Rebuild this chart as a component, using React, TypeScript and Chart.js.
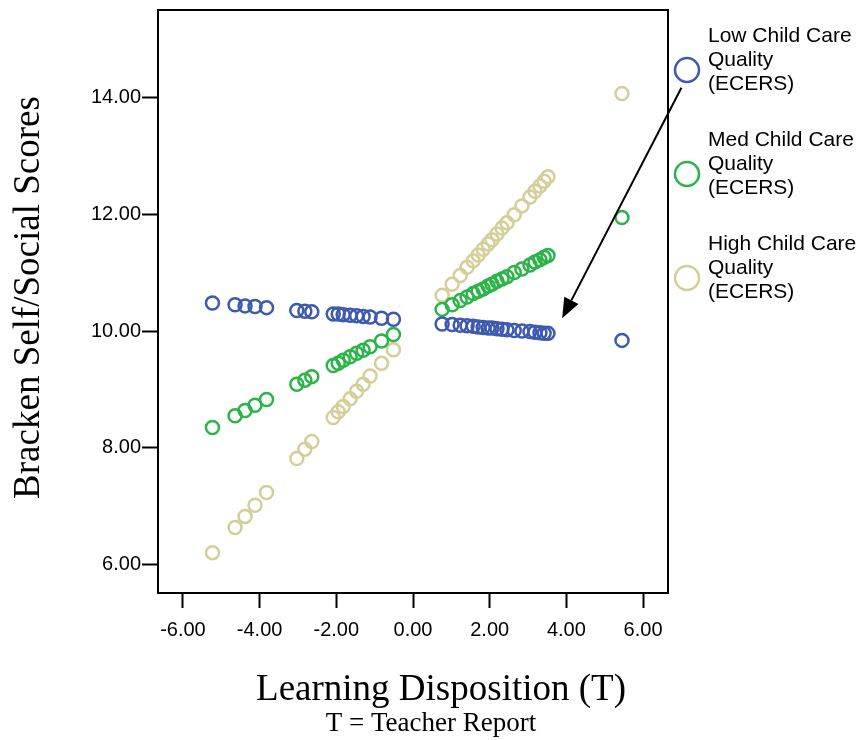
import React, { useEffect, useRef } from "react";
import { Chart, registerables } from "chart.js";

Chart.register(...registerables);

// Learning Disposition (T) values shared by all three groups
const xValues = [
  -5.23, -4.64, -4.38, -4.12, -3.82, -3.03, -2.82, -2.64, -2.08, -1.95, -1.82, -1.64,
  -1.47, -1.3, -1.12, -0.82, -0.51, 0.76, 1.02, 1.23, 1.41, 1.57, 1.7, 1.83, 1.96,
  2.06, 2.19, 2.32, 2.45, 2.64, 2.84, 3.05, 3.18, 3.31, 3.42, 3.52, 5.45,
];

// Bracken Self/Social Scores per group
const lowQuality = [
  10.48, 10.45, 10.43, 10.42, 10.4, 10.35, 10.34, 10.33, 10.29, 10.29, 10.28, 10.27,
  10.26, 10.25, 10.24, 10.22, 10.2, 10.12, 10.11, 10.1, 10.09, 10.08, 10.07, 10.06,
  10.05, 10.05, 10.04, 10.03, 10.02, 10.01, 10.0, 9.99, 9.98, 9.97, 9.96, 9.96, 9.84,
];
const medQuality = [
  8.35, 8.55, 8.64, 8.73, 8.83, 9.09, 9.16, 9.22, 9.41, 9.45, 9.5, 9.56, 9.62, 9.67,
  9.73, 9.83, 9.94, 10.37, 10.45, 10.52, 10.58, 10.64, 10.68, 10.72, 10.77, 10.8,
  10.85, 10.89, 10.93, 11.0, 11.06, 11.13, 11.18, 11.22, 11.26, 11.29, 11.94,
];
const highQuality = [
  6.21, 6.64, 6.83, 7.02, 7.24, 7.82, 7.98, 8.11, 8.52, 8.62, 8.71, 8.84, 8.97, 9.09,
  9.23, 9.45, 9.68, 10.61, 10.8, 10.95, 11.09, 11.2, 11.3, 11.4, 11.49, 11.56, 11.66,
  11.76, 11.85, 11.99, 12.14, 12.29, 12.39, 12.48, 12.56, 12.64, 14.06,
];

const seriesLabels = [
  "Low Child Care Quality (ECERS)",
  "Med Child Care Quality (ECERS)",
  "High Child Care Quality (ECERS)",
];
const legendLines = [
  ["Low Child Care", "Quality", "(ECERS)"],
  ["Med Child Care", "Quality", "(ECERS)"],
  ["High Child Care", "Quality", "(ECERS)"],
];
const seriesColors = ["#3e5ab0", "#2cb44b", "#d4ce98"];

const xTicks = [-6, -4, -2, 0, 2, 4, 6];
const yTicks = [6, 8, 10, 12, 14];
const xRange = [-6.65, 6.65];
const yRange = [5.52, 15.49];

const xTitle = "Learning Disposition (T)";
const xSubtitle = "T = Teacher Report";
const yTitle = "Bracken Self/Social Scores";

// arrow annotation (data coordinates): from legend toward the low-quality line
const arrowFrom = [7.0, 14.16];
const arrowTo = [3.89, 10.22];

const SANS = "'Liberation Sans', Arial, sans-serif";
const SERIF = "'Liberation Serif', 'Times New Roman', serif";

const decorPlugin = {
  id: "decor",
  afterDraw(chart: any) {
    const { ctx, chartArea: a, scales } = chart;
    ctx.save();
    // frame
    ctx.strokeStyle = "#000";
    ctx.lineWidth = 2;
    ctx.strokeRect(a.left, a.top, a.right - a.left, a.bottom - a.top);

    // arrow
    const x1 = scales.x.getPixelForValue(arrowFrom[0]);
    const y1 = scales.y.getPixelForValue(arrowFrom[1]);
    const x2 = scales.x.getPixelForValue(arrowTo[0]);
    const y2 = scales.y.getPixelForValue(arrowTo[1]);
    const ang = Math.atan2(y2 - y1, x2 - x1);
    const headLen = 20;
    const headHalf = 8;
    const bx = x2 - headLen * Math.cos(ang);
    const by = y2 - headLen * Math.sin(ang);
    ctx.lineWidth = 2;
    ctx.beginPath();
    ctx.moveTo(x1, y1);
    ctx.lineTo(bx, by);
    ctx.stroke();
    ctx.fillStyle = "#000";
    ctx.beginPath();
    ctx.moveTo(x2, y2);
    ctx.lineTo(bx - headHalf * Math.sin(ang), by + headHalf * Math.cos(ang));
    ctx.lineTo(bx + headHalf * Math.sin(ang), by - headHalf * Math.cos(ang));
    ctx.closePath();
    ctx.fill();

    // legend
    const legendX = a.right + 19;
    const textX = a.right + 40;
    legendLines.forEach((lines, i) => {
      const top = 42 + i * 104;
      ctx.strokeStyle = seriesColors[i];
      ctx.lineWidth = 2.5;
      ctx.beginPath();
      ctx.arc(legendX, top + 28, 12, 0, Math.PI * 2);
      ctx.stroke();
      ctx.fillStyle = "#000";
      ctx.font = `21px ${SANS}`;
      ctx.textAlign = "left";
      ctx.textBaseline = "alphabetic";
      lines.forEach((ln, j) => ctx.fillText(ln, textX, top + j * 24));
    });

    // axis titles
    ctx.fillStyle = "#000";
    ctx.textAlign = "center";
    ctx.textBaseline = "alphabetic";
    ctx.font = `37px ${SERIF}`;
    ctx.fillText(xTitle, 441, 700);
    ctx.font = `27px ${SERIF}`;
    ctx.fillText(xSubtitle, 431, 731);

    ctx.save();
    ctx.translate(29.5, 297.5);
    ctx.rotate(-Math.PI / 2);
    ctx.textBaseline = "middle";
    ctx.font = `37px ${SERIF}`;
    ctx.fillText(yTitle, 0, 0);
    ctx.restore();

    ctx.restore();
  },
};

export default function App() {
  const ref = useRef<HTMLCanvasElement | null>(null);

  useEffect(() => {
    if (!ref.current) return;
    const mk = (ys: number[]) => xValues.map((x, i) => ({ x, y: ys[i] }));
    const chart = new Chart(ref.current, {
      type: "scatter",
      data: {
        datasets: [lowQuality, medQuality, highQuality].map((ys, i) => ({
          label: seriesLabels[i],
          data: mk(ys),
          borderColor: seriesColors[i],
          backgroundColor: "rgba(0,0,0,0)",
          pointRadius: 6.5,
          pointBorderWidth: 2.5,
          pointStyle: "circle",
          showLine: false,
        })),
      },
      options: {
        responsive: false,
        animation: false,
        devicePixelRatio: 1,
        layout: { padding: { top: 10, right: 194, bottom: 0, left: 0 } },
        plugins: { legend: { display: false }, tooltip: { enabled: false } },
        scales: {
          x: {
            type: "linear",
            min: xRange[0],
            max: xRange[1],
            afterBuildTicks: (s: any) => {
              s.ticks = xTicks.map((v) => ({ value: v }));
            },
            afterFit: (s: any) => {
              s.height = 147;
              s.paddingLeft = 0;
              s.paddingRight = 0;
            },
            border: { display: false },
            grid: {
              drawOnChartArea: false,
              drawTicks: true,
              tickLength: 15,
              tickColor: "#000",
              tickWidth: 2,
            },
            ticks: {
              color: "#000",
              font: { family: SANS, size: 20 },
              padding: 10,
              maxRotation: 0,
              callback: (v: any) => Number(v).toFixed(2),
            },
          },
          y: {
            type: "linear",
            min: yRange[0],
            max: yRange[1],
            afterBuildTicks: (s: any) => {
              s.ticks = yTicks.map((v) => ({ value: v }));
            },
            afterFit: (s: any) => {
              s.width = 158;
              s.paddingTop = 0;
              s.paddingBottom = 0;
            },
            border: { display: false },
            grid: {
              drawOnChartArea: false,
              drawTicks: true,
              tickLength: 16,
              tickColor: "#000",
              tickWidth: 2,
            },
            ticks: {
              color: "#000",
              font: { family: SANS, size: 20 },
              padding: 1,
              callback: (v: any) => Number(v).toFixed(2),
            },
          },
        },
      },
      plugins: [decorPlugin],
    } as any);
    return () => chart.destroy();
  }, []);

  return (
    <div style={{ position: "absolute", left: 0, top: 0, width: 862, height: 740 }}>
      <canvas ref={ref} width={862} height={740} style={{ width: 862, height: 740 }} />
    </div>
  );
}
